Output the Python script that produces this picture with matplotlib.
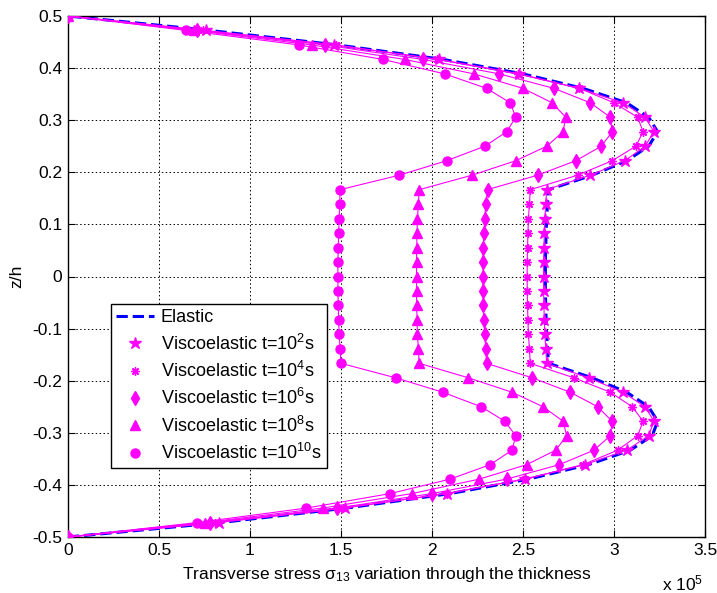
import numpy as np
import matplotlib
matplotlib.use("Agg")
import matplotlib.pyplot as plt
from matplotlib.lines import Line2D
from matplotlib.ticker import FixedLocator, FuncFormatter

plt.rcParams['font.family'] = ['Liberation Sans', 'DejaVu Sans']
plt.rcParams['mathtext.fontset'] = 'custom'
plt.rcParams['mathtext.rm'] = 'Liberation Sans'
plt.rcParams['mathtext.it'] = 'Liberation Sans:italic'
plt.rcParams['mathtext.bf'] = 'Liberation Sans:bold'
plt.rcParams['axes.unicode_minus'] = False

# thickness coordinate z/h (37 points, bottom to top)
z = np.linspace(-0.5, 0.5, 37)

# transverse stress sigma_13 (units of 1e5), bottom -> top
elastic = [0, 0.84, 1.53, 2.10, 2.53, 2.86, 3.09, 3.21, 3.24, 3.19, 3.07, 2.88,
           2.64, 2.635, 2.63, 2.627, 2.625, 2.623, 2.623, 2.623, 2.625, 2.627, 2.63, 2.635, 2.64,
           2.88, 3.07, 3.19, 3.24, 3.19, 3.07, 2.83, 2.50, 2.06, 1.48, 0.78, 0]
visco_t1e2 = [0, 0.83, 1.52, 2.08, 2.51, 2.84, 3.07, 3.19, 3.22, 3.17, 3.05, 2.86,
              2.63, 2.625, 2.62, 2.617, 2.615, 2.613, 2.613, 2.613, 2.615, 2.617, 2.62, 2.625, 2.63,
              2.87, 3.06, 3.17, 3.22, 3.17, 3.05, 2.81, 2.48, 2.04, 1.46, 0.76, 0]
visco_t1e4 = [0, 0.81, 1.51, 2.08, 2.51, 2.83, 3.02, 3.13, 3.16, 3.10, 2.98, 2.78,
              2.54, 2.535, 2.53, 2.527, 2.525, 2.523, 2.523, 2.523, 2.525, 2.527, 2.53, 2.535, 2.54,
              2.80, 2.99, 3.12, 3.16, 3.13, 3.00, 2.81, 2.47, 2.03, 1.47, 0.74, 0]
visco_t1e6 = [0, 0.78, 1.48, 2.00, 2.41, 2.70, 2.89, 2.98, 2.99, 2.91, 2.76, 2.55,
              2.30, 2.295, 2.29, 2.285, 2.282, 2.28, 2.28, 2.28, 2.282, 2.285, 2.29, 2.295, 2.305,
              2.58, 2.79, 2.93, 2.99, 2.98, 2.87, 2.67, 2.37, 1.95, 1.41, 0.71, 0]
visco_t1e8 = [0, 0.75, 1.40, 1.89, 2.26, 2.52, 2.68, 2.74, 2.72, 2.61, 2.44, 2.20,
              1.93, 1.925, 1.92, 1.918, 1.916, 1.915, 1.915, 1.915, 1.916, 1.918, 1.92, 1.925, 1.93,
              2.22, 2.46, 2.63, 2.72, 2.735, 2.66, 2.50, 2.23, 1.85, 1.34, 0.69, 0]
visco_t1e10 = [0, 0.71, 1.31, 1.77, 2.10, 2.32, 2.44, 2.46, 2.40, 2.27, 2.06, 1.80,
               1.50, 1.495, 1.49, 1.487, 1.485, 1.483, 1.483, 1.483, 1.485, 1.487, 1.49, 1.493, 1.495,
               1.82, 2.08, 2.29, 2.41, 2.46, 2.43, 2.30, 2.07, 1.73, 1.27, 0.65, 0]

labels = ['Elastic',
          r'Viscoelastic t=10$^{2}$s',
          r'Viscoelastic t=10$^{4}$s',
          r'Viscoelastic t=10$^{6}$s',
          r'Viscoelastic t=10$^{8}$s',
          r'Viscoelastic t=10$^{10}$s']
xticks = [0, 0.5, 1, 1.5, 2, 2.5, 3, 3.5]
yticks = [-0.5, -0.4, -0.3, -0.2, -0.1, 0, 0.1, 0.2, 0.3, 0.4, 0.5]

W, H = 717, 593
fig = plt.figure(figsize=(W / 100, H / 100), dpi=100)
ax = fig.add_axes([68 / W, 56 / H, 637 / W, 521 / H])

mag = (1, 0, 1)
ax.plot(elastic, z, color='b', linestyle='--', linewidth=2.2, zorder=2)

series = [(visco_t1e2, '*', 9), (visco_t1e4, (8, 2, 0), 6),
          (visco_t1e6, 'd', 7.5), (visco_t1e8, '^', 6.5), (visco_t1e10, 'o', 6.5)]
handles = [Line2D([], [], color='b', linestyle='--', linewidth=2.2)]
for vals, mk, ms in series:
    ax.plot(vals, z, color=mag, linewidth=0.8, marker=mk, markersize=ms,
            markerfacecolor=mag, markeredgecolor=mag, markeredgewidth=1.0, zorder=3)
    handles.append(Line2D([], [], linestyle='none', marker=mk, markersize=ms,
                          markerfacecolor=mag, markeredgecolor=mag, markeredgewidth=1.0))

ax.set_xlim(0, 3.5)
ax.set_ylim(-0.5, 0.5)
ax.xaxis.set_major_locator(FixedLocator(xticks))
ax.yaxis.set_major_locator(FixedLocator(yticks))
fmt = FuncFormatter(lambda v, p: ('%g' % round(v, 2)))
ax.xaxis.set_major_formatter(fmt)
ax.yaxis.set_major_formatter(fmt)
ax.tick_params(direction='in', length=5, width=0.8, labelsize=12.5, top=True, right=True,
               pad=4, colors='k')
ax.grid(True, color='k', linestyle=(0, (1.5, 2.5)), linewidth=0.7)
for s in ax.spines.values():
    s.set_linewidth(1.0)
    s.set_color('k')

ax.set_xlabel(r'Transverse stress $\mathrm{\sigma}_{13}$ variation through the thickness',
              fontsize=12.5, labelpad=5)
ax.set_ylabel('z/h', fontsize=12.5, labelpad=6)
fig.text(662 / W, 1 - 590 / H, r'x 10$^{5}$', fontsize=12.5, ha='left', va='baseline')

leg = ax.legend(handles, labels, loc='upper left',
                bbox_to_anchor=((111 - 68) / 637, (537 - 304) / 521),
                fontsize=13, frameon=True, fancybox=False, framealpha=1,
                edgecolor='k', handlelength=2.1, handletextpad=0.35,
                borderpad=0.3, labelspacing=0.4, borderaxespad=0)
leg.get_frame().set_linewidth(1.0)

fig.savefig('out.png', dpi=100)
